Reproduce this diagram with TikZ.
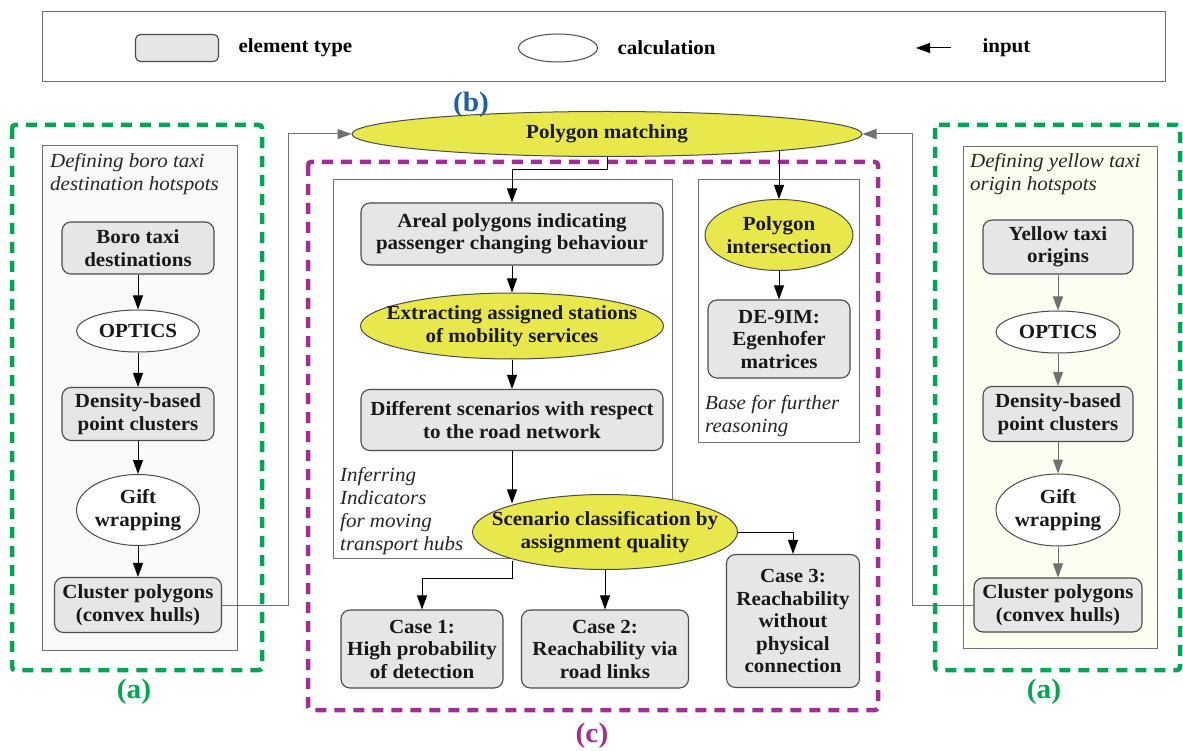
\documentclass[tikz,border=0pt]{standalone}
\usepackage{fontspec}
\setmainfont{Liberation Serif}[FakeStretch=1.05]
\usetikzlibrary{shapes.geometric,arrows.meta,positioning}
\definecolor{elemfill}{HTML}{E6E6E6}
\definecolor{calcyellow}{HTML}{E8E84C}
\definecolor{boxline}{HTML}{4A4A4A}
\definecolor{groupline}{HTML}{707070}
\definecolor{feedgray}{HTML}{707070}
\definecolor{hotgreen}{HTML}{00A651}
\definecolor{caseviolet}{HTML}{A32D98}
\definecolor{matchblue}{HTML}{1F5FA8}
\definecolor{leftfill}{HTML}{F9F9F7}
\definecolor{rightfill}{HTML}{FDFDF2}
\newcommand\boxfont{\fontsize{20}{22.5}\selectfont\bfseries}
\newcommand\notefont{\fontsize{20}{23}\selectfont\itshape}
\newcommand\legendfont{\fontsize{20}{22}\selectfont\bfseries}
\newcommand\tagfont{\fontsize{28}{30}\selectfont\bfseries}
\tikzset{
  elem/.style={draw=boxline, fill=elemfill, rounded corners=9pt, line width=1.1pt,
    align=center, font=\boxfont, text=black!90, inner sep=0pt},
  calc/.style={ellipse, draw=boxline, fill=white, line width=1pt,
    align=center, font=\boxfont, text=black!90, inner xsep=-40pt, inner ysep=0pt},
  calcy/.style={calc, fill=calcyellow},
  flow/.style={-{Triangle[length=14pt,width=10pt]}, line width=1pt},
  feed/.style={flow, draw=feedgray},
  group/.style={draw=groupline, line width=1pt},
  hotspot/.style={draw=hotgreen, line width=4.5pt, dash pattern=on 11pt off 8pt, rounded corners=3pt},
  cases/.style={draw=caseviolet, line width=4.5pt, dash pattern=on 11pt off 8pt, rounded corners=3pt},
  note/.style={font=\notefont, text=black!85, align=left, inner sep=0pt, anchor=north west},
  tag/.style={font=\tagfont}
}
\begin{document}
\begin{tikzpicture}[x=1pt,y=-1pt]
  \useasboundingbox (0,0) rectangle (1183,751);

  \draw[groupline, line width=1pt, fill=white] (42,12) rectangle (1165,82);
  \node[elem, rounded corners=5pt, minimum width=83pt, minimum height=27pt] (legElem) at (177,48) {};
  \node[font=\legendfont, right=16pt of legElem] (legElemTxt) {element type};
  \node[calc, minimum width=79pt, minimum height=28pt] (legCalc) at (558,48) {};
  \node[font=\legendfont, right=16pt of legCalc] (legCalcTxt) {calculation};
  \coordinate (legTail) at (951,48);
  \coordinate (legTip) at (916,48);
  \draw[flow] (legTail) -- (legTip);
  \node[font=\legendfont, right=28pt of legTail] (legInputTxt) {input};

  \draw[hotspot] (12,125) rectangle (262,670);
  \draw[group, fill=leftfill] (42,146) rectangle (237,650);
  \draw[hotspot] (935,125) rectangle (1180,670);
  \draw[group, fill=rightfill] (963,147) rectangle (1157,648);
  \draw[cases] (308,162) rectangle (878,710);
  \draw[group, fill=white] (333,180) rectangle (672,558);
  \draw[group, fill=white] (698,180) rectangle (859,442);

  \node[note] (noteBoro) at (50,153) {Defining boro taxi\\destination hotspots};
  \node[note] (noteYellow) at (970,153) {Defining yellow taxi\\origin hotspots};
  \node[note] (noteInfer) at (340,467) {Inferring\\Indicators\\for moving\\transport hubs};
  \node[note] (noteBase) at (705,395) {Base for further\\reasoning};

  \node[elem, minimum width=152pt, minimum height=52pt] (boroDest) at (138,248) {Boro taxi\\destinations};
  \node[calc, minimum width=123pt, minimum height=42pt] (opticsL) at (138,331) {OPTICS};
  \node[elem, minimum width=152pt, minimum height=53pt] (densL) at (138,414) {Density-based\\point clusters};
  \node[calc, minimum width=123pt, minimum height=71pt] (giftL) at (138,510) {Gift\\wrapping};
  \node[elem, minimum width=167pt, minimum height=55pt] (clusterL) at (138,605) {Cluster polygons\\(convex hulls)};

  \node[elem, minimum width=150pt, minimum height=54pt] (yellowOrig) at (1058,247) {Yellow taxi\\origins};
  \node[calc, minimum width=124pt, minimum height=42pt] (opticsR) at (1058,332) {OPTICS};
  \node[elem, minimum width=150pt, minimum height=55pt] (densR) at (1058,414) {Density-based\\point clusters};
  \node[calc, minimum width=124pt, minimum height=72pt] (giftR) at (1058,510) {Gift\\wrapping};
  \node[elem, minimum width=168pt, minimum height=54pt] (clusterR) at (1058,605) {Cluster polygons\\(convex hulls)};

  \node[calcy, minimum width=510pt, minimum height=45pt] (match) at (607,134) {Polygon matching};
  \node[elem, minimum width=302pt, minimum height=62pt] (areal) at (512,234) {Areal polygons indicating\\passenger changing behaviour};
  \node[calcy, minimum width=303pt, minimum height=66pt] (extract) at (512,326) {Extracting assigned stations\\of mobility services};
  \node[elem, minimum width=302pt, minimum height=61pt] (scenarios) at (512,420) {Different scenarios with respect\\to the road network};
  \node[calcy, minimum width=265pt, minimum height=75pt] (classify) at (605,532) {Scenario classification by\\assignment quality};
  \node[elem, minimum width=162pt, minimum height=78pt] (caseOne) at (422,649) {Case 1:\\High probability\\of detection};
  \node[elem, minimum width=167pt, minimum height=78pt] (caseTwo) at (605,649) {Case 2:\\Reachability via\\road links};
  \node[elem, minimum width=133pt, minimum height=133pt] (caseThree) at (793,621) {Case 3:\\Reachability\\without\\physical\\connection};
  \node[calcy, minimum width=148pt, minimum height=71pt] (intersect) at (779,235) {Polygon\\intersection};
  \node[elem, minimum width=142pt, minimum height=78pt] (egenhofer) at (779,339) {DE-9IM:\\Egenhofer\\matrices};

  \draw[flow] (boroDest) -- (opticsL);
  \draw[flow] (opticsL) -- (densL);
  \draw[flow] (densL) -- (giftL);
  \draw[flow] (giftL) -- (clusterL);
  \begin{scope}[feed]
    \draw (yellowOrig) -- (opticsR);
    \draw (opticsR) -- (densR);
    \draw (densR) -- (giftR);
    \draw (giftR) -- (clusterR);
    \draw (clusterL.east) -- ++(66,0) |- (match.west);
    \draw (clusterR.west) -- ++(-61,0) |- (match.east);
  \end{scope}

  \draw[flow] (match.south) -- ++(0,13) -| (areal.north);
  \draw[flow] (intersect.north |- match.-5.5) -- (intersect.north);
  \draw[flow] (areal) -- (extract);
  \draw[flow] (extract) -- (scenarios);
  \draw[flow] (scenarios.south) -- (scenarios.south |- classify.162);
  \draw[flow] (scenarios.south |- classify.198) -- ++(0,18) -| (caseOne.north);
  \draw[flow] (classify.south) -- (caseTwo.north);
  \draw[flow] (classify.east) -| (caseThree.north);
  \draw[flow] (intersect) -- (egenhofer);

  \node[tag, text=hotgreen] (tagBoro) at (134,692) {(a)};
  \node[tag, text=hotgreen] (tagYellow) at (1044,692) {(a)};
  \node[tag, text=matchblue] (tagMatch) at (471,105) {(b)};
  \node[tag, text=caseviolet] (tagCases) at (592,736) {(c)};
\end{tikzpicture}
\end{document}
